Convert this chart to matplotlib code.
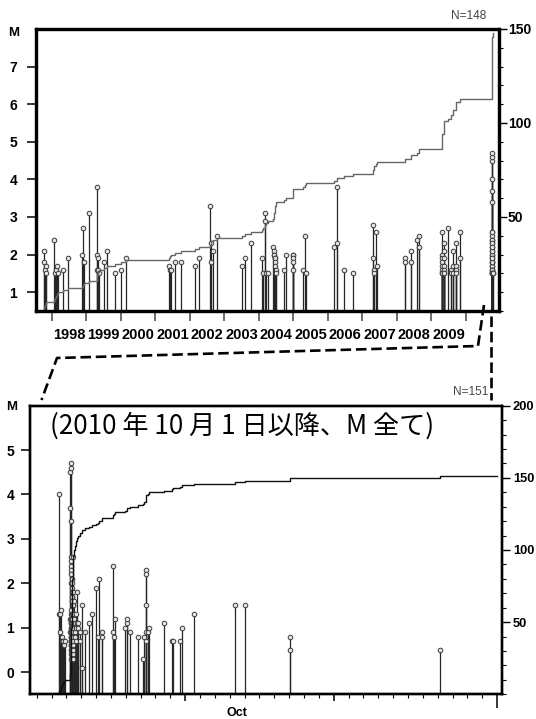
import numpy as np
import matplotlib
matplotlib.use("Agg")
import matplotlib.pyplot as plt
import matplotlib.transforms as mtransforms
from matplotlib.lines import Line2D
from matplotlib.ticker import FixedLocator, MultipleLocator

plt.rcParams['font.family'] = ['Liberation Sans', 'DejaVu Sans']
plt.rcParams['font.weight'] = 'bold'

# --- upper panel: M>=1.5 events, Oct 1997 - Sep 2010 (decimal year, magnitude)
hist_year = [
    1997.79, 1997.79, 1997.80, 1997.84, 1997.84,
    1998.08, 1998.11, 1998.13, 1998.15, 1998.17, 1998.32, 1998.47,
    1998.87, 1998.91, 1998.95, 1999.07,
    1999.30, 1999.31, 1999.32, 1999.33, 1999.35, 1999.37,
    1999.53, 1999.59, 1999.84, 2000.01, 2000.15,
    2001.41, 2001.42, 2001.46, 2001.56, 2001.75,
    2002.16, 2002.27, 2002.60, 2002.61, 2002.62, 2002.67, 2002.78,
    2003.51, 2003.60, 2003.77,
    2004.09, 2004.13, 2004.17, 2004.17, 2004.21, 2004.27,
    2004.42, 2004.43, 2004.44, 2004.45, 2004.46, 2004.47, 2004.47, 2004.48, 2004.49, 2004.50,
    2004.73, 2004.78,
    2004.98, 2004.98, 2004.99, 2004.99, 2005.00,
    2005.28, 2005.33, 2005.37,
    2006.17, 2006.26, 2006.26, 2006.46, 2006.74,
    2007.30, 2007.30, 2007.35, 2007.35, 2007.39, 2007.43,
    2008.25, 2008.25, 2008.41, 2008.41, 2008.58, 2008.65, 2008.65,
    2009.32, 2009.32, 2009.32, 2009.32, 2009.32, 2009.32, 2009.32, 2009.32,
    2009.37, 2009.37, 2009.37, 2009.37, 2009.37, 2009.37, 2009.37,
    2009.50, 2009.56, 2009.56,
    2009.64, 2009.64, 2009.64,
    2009.71, 2009.71, 2009.71, 2009.71,
    2009.83, 2009.83,
]
hist_mag = [
    2.1, 1.8, 1.6, 1.7, 1.5,
    2.4, 1.5, 1.6, 1.7, 1.5, 1.6, 1.9,
    2.0, 2.7, 1.8, 3.1,
    2.0, 1.6, 3.8, 1.9, 1.6, 1.5,
    1.8, 2.1, 1.5, 1.6, 1.9,
    1.7, 1.6, 1.6, 1.8, 1.8,
    1.7, 1.9, 3.3, 2.3, 1.8, 2.1, 2.5,
    1.7, 1.9, 2.3,
    1.9, 1.5, 3.1, 2.9, 1.5, 1.5,
    2.2, 2.1, 2.0, 2.0, 1.9, 1.9, 1.8, 1.7, 1.6, 1.5,
    1.6, 2.0,
    2.0, 2.0, 1.9, 1.8, 1.6,
    1.6, 2.5, 1.5,
    2.2, 3.8, 2.3, 1.6, 1.5,
    2.8, 1.9, 1.6, 1.5, 2.6, 1.7,
    1.9, 1.8, 2.1, 1.8, 2.4, 2.5, 2.2,
    2.6, 2.0, 1.9, 1.8, 1.7, 1.6, 1.5, 1.5,
    2.3, 2.1, 1.9, 1.7, 1.6, 1.5, 1.5,
    2.7, 1.6, 1.5,
    2.1, 1.7, 1.5,
    2.3, 1.7, 1.6, 1.5,
    2.6, 1.9,
]

# --- lower panel: all events since 2010-10-01 (days after Oct 1, magnitude)
early_day = [1.52, 1.53, 1.55, 1.60, 1.64, 1.68, 1.73, 1.79, 1.85, 1.91]
early_mag = [4.0, 1.3, 1.3, 0.9, 1.4, 0.8, 0.7, 0.7, 0.6, 0.7]

burst_day = [2.262, 2.268, 2.271, 2.275, 2.278, 2.281, 2.284, 2.286, 2.289, 2.291,
             2.293, 2.295, 2.297, 2.299, 2.301, 2.303, 2.305, 2.307, 2.309, 2.311,
             2.313, 2.315, 2.317, 2.319, 2.321, 2.323, 2.325, 2.327, 2.329, 2.331,
             2.333, 2.335, 2.337, 2.339, 2.341, 2.343, 2.345, 2.347, 2.349, 2.351,
             2.353, 2.355, 2.357, 2.359, 2.361, 2.363, 2.365, 2.367, 2.369, 2.371,
             2.373, 2.375, 2.377, 2.379, 2.381, 2.383, 2.385, 2.387, 2.389, 2.391,
             2.393, 2.395, 2.397, 2.399, 2.401, 2.403, 2.405, 2.407, 2.409, 2.411,
             2.413, 2.415, 2.417, 2.419, 2.421, 2.423, 2.425, 2.428, 2.431, 2.434,
             2.437, 2.440, 2.443]
burst_mag = [3.7, 1.2, 0.9, 4.5, 1.1, 0.8, 4.6, 1.0, 0.7, 4.7,
             3.4, 1.3, 0.6, 2.0, 0.9, 0.5, 1.1, 2.6, 0.8, 0.4,
             1.2, 0.7, 2.5, 1.0, 0.6, 0.3, 2.4, 0.9, 0.8, 1.4,
             0.5, 2.3, 0.7, 1.1, 0.6, 2.2, 0.9, 0.4, 1.0, 2.1,
             0.8, 0.7, 1.2, 0.5, 2.0, 0.9, 0.3, 1.3, 1.9, 0.6,
             0.8, 1.0, 1.8, 0.7, 0.4, 1.1, 1.7, 0.9, 0.6, 0.8,
             1.7, 1.0, 0.5, 0.7, 1.6, 1.2, 0.8, 0.6, 1.6, 0.9,
             0.4, 1.1, 1.5, 0.7, 0.5, 1.0, 1.5, 0.8, 0.6, 0.9,
             0.3, 0.7, 1.3]

after_day = [2.45, 2.46, 2.47, 2.48, 2.50, 2.52, 2.54, 2.56, 2.58, 2.60, 2.62,
             2.65, 2.67, 2.69, 2.70, 2.80, 2.81, 2.92, 2.94, 3.03, 3.06]
after_mag = [2.6, 1.3, 1.8, 1.1, 1.6, 1.3, 1.2, 0.9, 1.1, 0.8, 1.3,
             1.0, 0.7, 1.8, 1.1, 1.1, 1.0, 0.9, 0.7, 1.5, 0.1]

late_day = [3.25, 3.52, 3.70, 3.99, 4.10, 4.22, 4.37, 4.39, 5.16, 5.17, 5.18, 5.27,
            5.95, 6.06, 6.07, 6.28, 6.80, 7.18, 7.20, 7.34, 7.35, 7.36, 7.37, 7.38,
            7.47, 7.58, 8.57, 9.09, 9.20, 9.65, 9.80, 10.61, 13.35, 14.03,
            17.06, 17.07, 27.16]
late_mag = [0.9, 1.1, 1.3, 1.9, 0.8, 2.1, 0.9, 0.8, 2.4, 0.9, 0.8, 1.2,
            1.0, 1.1, 1.2, 0.9, 0.8, 0.3, 0.8, 2.3, 2.2, 1.5, 0.7, 0.9,
            0.9, 1.0, 1.1, 0.7, 0.7, 0.7, 1.0, 1.3, 1.5, 1.5,
            0.8, 0.5, 0.5]

year_labels = [str(y) for y in range(1998, 2010)]

# combine lower-panel events
day = np.array(early_day + burst_day + after_day + late_day)
mag = np.array(early_mag + burst_mag + after_mag + late_mag)
order = np.argsort(day, kind='stable')
day, mag = day[order], mag[order]

# upper panel = history + recent M>=1.5 converted to decimal year
sel = mag >= 1.5
yr = np.concatenate([np.array(hist_year), 2010 + (273 + day[sel]) / 365.0])
ym = np.concatenate([np.array(hist_mag), mag[sel]])
o2 = np.argsort(yr, kind='stable')
yr, ym = yr[o2], ym[o2]

W, H = 536, 719
fig = plt.figure(figsize=(W / 100, H / 100), dpi=100)


def rect(l, t, r, b):
    return [l / W, 1 - b / H, (r - l) / W, (b - t) / H]


stem_c = '#262626'
circ = dict(ls='none', marker='o', ms=3.3, mfc='#e4e4e4', mec='#3a3a3a', mew=0.7)

# ---------------- upper panel
ax1 = fig.add_axes(rect(36, 29, 499, 311))
x0, x1 = 1997.545, 2010.965
ax1.vlines(yr, 0.5, ym, color=stem_c, lw=0.9)
ax1.plot(yr, ym, **circ)
ax1.set_xlim(x0, x1)
ax1.set_ylim(0.5, 8)
ax1.set_yticks(range(1, 8))
ax1.set_xticks(range(1998, 2011))
ax1.set_xticklabels([])
ax1.set_xticks(np.arange(1998.5, 2010, 1.0), minor=True)
ax1.set_xticklabels(year_labels, minor=True)
ax1.tick_params(axis='x', which='major', direction='out', length=7, width=1.2, color='#555')
ax1.tick_params(axis='x', which='minor', length=0, pad=12, labelsize=10.5)
ax1.tick_params(axis='y', direction='out', length=6.5, width=1.1, pad=7, labelsize=10)

ax1r = ax1.twinx()
ax1r.step(np.r_[x0, yr], np.r_[0, np.arange(1, len(yr) + 1)], where='post',
          color='#666666', lw=1.0)
ax1r.set_ylim(0, 150)
ax1r.yaxis.set_major_locator(FixedLocator([50, 100, 150]))
ax1r.yaxis.set_minor_locator(MultipleLocator(10))
ax1r.tick_params(axis='y', which='major', direction='out', length=6, width=1, pad=0.5, labelsize=10)
ax1r.tick_params(axis='y', which='minor', direction='out', length=3, width=0.8)
ax1r.set_xlim(x0, x1)

for a in (ax1, ax1r):
    for s in a.spines.values():
        s.set_linewidth(2.3)

# ---------------- lower panel
ax2 = fig.add_axes(rect(30, 405.7, 501.7, 694.3))
d0, d1 = -0.45, 31.31
ax2.vlines(day, -0.5, mag, color=stem_c, lw=0.9)
ax2.plot(day, mag, **circ)
ax2.set_xlim(d0, d1)
ax2.set_ylim(-0.5, 6)
ax2.set_yticks(range(0, 6))
ax2.set_xticks([10, 20, 31])
ax2.set_xticklabels([])
ax2.set_xticks([d for d in range(0, 32) if d not in (10, 20, 31)], minor=True)
ax2.tick_params(axis='x', which='major', direction='out', length=5, width=1.1)
ax2.tick_params(axis='x', which='minor', direction='out', length=2.6, width=0.8)
ax2.xaxis.get_major_ticks()[2].tick1line.set_markersize(10)
ax2.tick_params(axis='y', direction='out', length=6.5, width=1.1, pad=5, labelsize=10)
trans = mtransforms.blended_transform_factory(ax2.transData, ax2.transAxes)
ax2.text(13.5, -0.065, 'Oct', transform=trans, ha='center', va='center', fontsize=9)

ax2r = ax2.twinx()
ax2r.step(np.r_[d0, day, 31.0], np.r_[0, np.arange(1, len(day) + 1), len(day)],
          where='post', color='#111111', lw=1.0)
ax2r.set_ylim(0, 200)
ax2r.yaxis.set_major_locator(FixedLocator([50, 100, 150, 200]))
ax2r.yaxis.set_minor_locator(MultipleLocator(10))
ax2r.tick_params(axis='y', which='major', direction='out', length=6, width=1, pad=2,
                 labelsize=9.3)
ax2r.tick_params(axis='y', which='minor', direction='out', length=3, width=0.8)
ax2r.set_xlim(d0, d1)

for a in (ax2, ax2r):
    for s in a.spines.values():
        s.set_linewidth(1.7)

ax2.text(0.042, 0.93, '(2010 年 10 月 1 日以降、M 全て)', transform=ax2.transAxes,
         ha='left', va='center', fontsize=18.8, fontweight='normal',
         family=['Noto Sans CJK JP', 'DejaVu Sans'])

# labels around the frames
fig.text(14 / W, 1 - 33 / H, 'M', ha='center', va='center', fontsize=9.5)
fig.text(12 / W, 1 - 407 / H, 'M', ha='center', va='center', fontsize=9.5)
fig.text(486 / W, 1 - 16 / H, f'N={len(yr)}', ha='right', va='center',
         fontsize=8.5, fontweight='normal', color='#444444')
fig.text(488 / W, 1 - 392 / H, f'N={len(day)}', ha='right', va='center',
         fontsize=8.5, fontweight='normal', color='#444444')

# dashed lines linking the zoomed period
link_paths = [
    [(484, 305), (478, 346), (57, 358), (41.5, 400)],
    [(491, 316), (491, 400)],
]
for path in link_paths:
    px = np.array([p[0] for p in path]) / W
    py = 1 - np.array([p[1] for p in path]) / H
    fig.add_artist(Line2D(px, py, transform=fig.transFigure, color='black', lw=1.9,
                          dashes=(4, 1.8), clip_on=False))

fig.savefig('out.png', dpi=100)
